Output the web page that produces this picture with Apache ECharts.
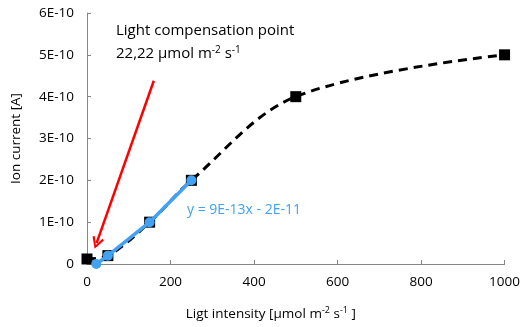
<!DOCTYPE html>
<html><head><meta charset="utf-8">
<script src="https://cdn.jsdelivr.net/npm/echarts@6/dist/echarts.min.js"></script>
<style>html,body{margin:0;padding:0;background:#fff}#c{width:523px;height:327px}</style>
</head><body><div id="c"></div>
<script>
const measX = [0, 50, 150, 250, 500, 1000];
const measY = [1.2e-11, 2e-11, 1e-10, 2e-10, 4e-10, 5e-10];
const fitX = [22.22, 50, 150, 250];
const fitY = [0, 2e-11, 1e-10, 2e-10];
const arrowFrom = [160, 4.38e-10];
const arrowTo = [23, 0.5e-10];
const yTickLabels = {0:'0',1:'1E-10',2:'2E-10',3:'3E-10',4:'4E-10',5:'5E-10',6:'6E-10'};
const FONT = '"Open Sans", "Noto Sans", sans-serif';
const BLUE = '#41a2f4';
const chart = echarts.init(document.getElementById('c'));
chart.setOption({
  animation:false,
  grid:{left:87,right:16,top:13,bottom:63},
  xAxis:{type:'value',min:0,max:1000,interval:200,
    axisLine:{lineStyle:{color:'#868686',width:1}},
    axisTick:{show:true,inside:true,length:4,lineStyle:{color:'#868686'}},
    splitLine:{show:false},
    axisLabel:{color:'#000',fontSize:13.5,fontFamily:FONT,margin:11,formatter:v=>String(v)},
    name:'{n|Ligt intensity [µmol m}{s|-2}{n| s}{s|-1}{n| ]}',
    nameLocation:'middle',nameGap:42,
    nameTextStyle:{padding:[0,50,0,0],rich:{n:{fontSize:13.5,fontFamily:FONT,color:'#000'},s:{fontSize:9,fontFamily:FONT,color:'#000',verticalAlign:'top',padding:[0,0,7,0]}}}
  },
  yAxis:{type:'value',min:0,max:6e-10,interval:1e-10,
    axisLine:{show:true,lineStyle:{color:'#868686',width:1}},
    axisTick:{show:true,inside:true,length:4,lineStyle:{color:'#868686'}},
    splitLine:{show:false},
    axisLabel:{color:'#000',fontSize:13.5,fontFamily:FONT,margin:13,
      formatter:v=>yTickLabels[Math.round(v*1e10)]},
    name:'Ion current [A]',nameLocation:'middle',nameGap:64,
    nameTextStyle:{fontSize:13.5,fontFamily:FONT,color:'#000'}
  },
  series:[
    {type:'line',data:measX.map((x,i)=>[x,measY[i]]),smooth:0.35,
     symbol:'rect',symbolSize:11,itemStyle:{color:'#000'},
     lineStyle:{color:'#000',width:3,type:[9,6]},z:2},
    {type:'line',data:fitX.map((x,i)=>[x,fitY[i]]),
     symbol:'circle',symbolSize:10,itemStyle:{color:BLUE},
     lineStyle:{color:BLUE,width:3.5},z:3,
     markLine:{silent:true,symbol:['none','path://M5,0 L10,9 L8.4,10 L5,3.2 L1.6,10 L0,9 Z'],symbolSize:[12,12],symbolKeepAspect:true,
       lineStyle:{color:'#ff0000',width:2.5,type:'solid'},itemStyle:{color:'#ff0000'},label:{show:false},
       data:[[{coord:arrowFrom},{coord:arrowTo}]]}}
  ],
  graphic:[
    {type:'text',left:116,top:23,style:{text:'Light compensation point',fontSize:15,fontFamily:FONT,fill:'#000'}},
    {type:'text',left:116,top:45,style:{text:'{n|22,22 µmol m}{s|-2}{n| s}{s|-1}',
      rich:{n:{fontSize:15,fontFamily:FONT,color:'#000'},s:{fontSize:10,fontFamily:FONT,color:'#000',verticalAlign:'top',padding:[0,0,8,0]}}}},
    {type:'text',left:187,top:203,style:{text:'y = 9E-13x - 2E-11',fontSize:14,fontFamily:FONT,fill:BLUE}}
  ]
});
</script></body></html>
